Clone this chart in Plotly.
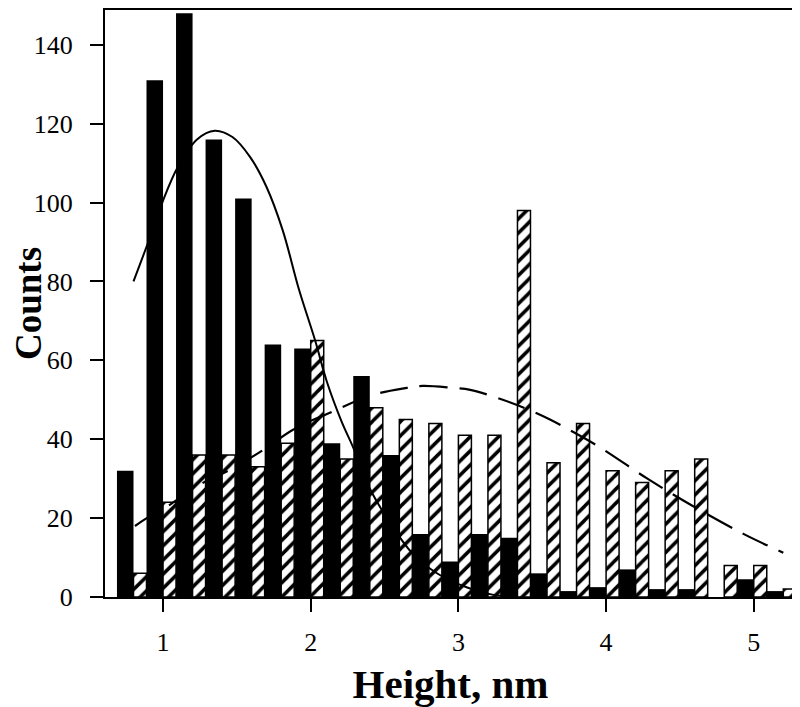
import plotly.graph_objects as go

# histogram bins (nm) and counts
bins = [0.8, 1.0, 1.2, 1.4, 1.6, 1.8, 2.0, 2.2, 2.4, 2.6, 2.8, 3.0,
        3.2, 3.4, 3.6, 3.8, 4.0, 4.2, 4.4, 4.6, 4.8, 5.0, 5.2]
counts_solid = [32, 131, 148, 116, 101, 64, 63, 39, 56, 36, 16, 9,
                16, 15, 6, 1.5, 2.5, 7, 2, 2, 0, 4.5, 1.5]
counts_hatch = [6, 24, 36, 36, 33, 39, 65, 35, 48, 45, 44, 41,
                41, 98, 34, 44, 32, 29, 32, 35, 8, 8, 2]

# fitted curves
fit1_x = [0.80, 0.91, 1.00, 1.10, 1.23, 1.35, 1.47, 1.59, 1.70, 1.81, 1.92,
          2.03, 2.11, 2.21, 2.29, 2.40, 2.56, 2.69, 2.86, 3.06, 3.23, 3.40]
fit1_y = [80, 91, 100.5, 109, 116, 118.2, 116.6, 111.5, 104, 93, 78,
          65, 54.5, 44.4, 37.7, 27.5, 17.5, 11, 5.9, 2.4, 0.6, 0.2]
fit2_x = [0.81, 0.89, 1.01, 1.25, 1.47, 1.68, 1.88, 2.11, 2.42, 2.65, 2.76,
          2.96, 3.08, 3.30, 3.48, 3.62, 3.75, 3.96, 4.28, 4.59, 4.93, 5.20]
fit2_y = [18, 20, 22.5, 28.5, 32.6, 37.3, 42.4, 46.4, 51.2, 53, 53.5,
          53, 52.5, 50, 47.4, 45, 42.4, 37.9, 30, 23, 16, 11.2]

fig = go.Figure()
fig.add_trace(go.Bar(x=bins, y=counts_solid, width=0.112, offset=-0.112,
                     marker=dict(color='black', line=dict(width=0))))
fig.add_trace(go.Bar(x=bins, y=counts_hatch, width=0.088, offset=0,
                     marker=dict(color='white',
                                 line=dict(color='black', width=1.5),
                                 pattern=dict(shape='/', fgcolor='black', bgcolor='white',
                                              fgopacity=1, size=10, solidity=0.35))))
fig.add_trace(go.Scatter(x=fit1_x, y=fit1_y, mode='lines', line_shape='spline',
                         line=dict(color='black', width=2)))
fig.add_trace(go.Scatter(x=fit2_x, y=fit2_y, mode='lines', line_shape='spline',
                         line=dict(color='black', width=2.2, dash='28px,12px')))

# page body adds an 8px margin, so the figure is sized to the remaining space
font_serif = 'Liberation Serif, Times New Roman, serif'
fig.update_layout(
    width=792, height=699,
    margin=dict(l=97, r=4, t=2, b=110),
    barmode='overlay', showlegend=False,
    plot_bgcolor='white', paper_bgcolor='white',
    font=dict(family=font_serif, color='black', size=26),
)
fig.update_xaxes(range=[0.607, 5.286], tickvals=[1, 2, 3, 4, 5], automargin=False,
                 ticks='outside', ticklen=13, tickwidth=1.5, tickcolor='black',
                 ticklabelstandoff=8,
                 showline=True, linecolor='black', linewidth=2, mirror=True,
                 showgrid=False, zeroline=False,
                 title=dict(text='<b>Height, nm</b>', font=dict(size=41), standoff=14))
fig.update_yaxes(range=[0, 148.8], tickvals=[0, 20, 40, 60, 80, 100, 120, 140],
                 automargin=False,
                 ticks='outside', ticklen=13, tickwidth=1.5, tickcolor='black',
                 ticklabelstandoff=12,
                 showline=True, linecolor='black', linewidth=2, mirror=True,
                 showgrid=False, zeroline=False,
                 title=dict(text='<b>Counts</b>', font=dict(size=37), standoff=4))

fig.write_html("out.html")
